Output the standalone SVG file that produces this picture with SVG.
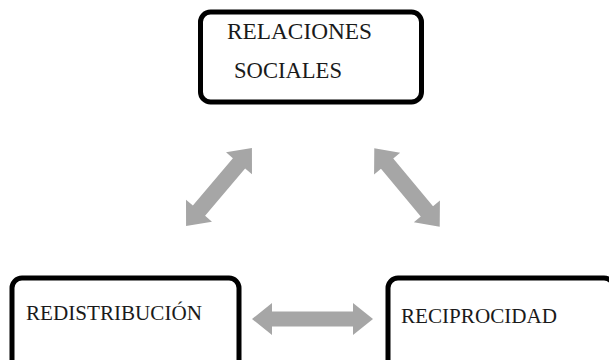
<svg xmlns="http://www.w3.org/2000/svg" width="609" height="360" viewBox="0 0 609 360">
<style>
.box{fill:#ffffff;stroke:#000000;stroke-width:5}
.lbl{font-family:'Liberation Serif','DejaVu Serif',serif;fill:#1a1a1a}
.arr{fill:#a6a6a6}
</style>
<defs>
<path id="dbl" d="M-51,0 L-31,-17 L-31,-8 L31,-8 L31,-17 L51,0 L31,17 L31,8 L-31,8 L-31,17 Z"/>
</defs>
<rect width="609" height="360" fill="#ffffff"/>
<g id="connectors">
<use href="#dbl" class="arr" transform="translate(219,187) rotate(-49.8)"/>
<use href="#dbl" class="arr" transform="translate(407,187.5) rotate(50.1)"/>
<path class="arr" d="M252,319 L272,303 L272,311.5 L353,311.5 L353,303 L373,319 L353,335 L353,326.5 L272,326.5 L272,335 Z"/>
</g>
<g id="relaciones-sociales">
<rect class="box" x="200.5" y="12" width="221" height="90" rx="10"/>
<text class="lbl" font-family="Liberation Serif, serif" x="227" y="39" font-size="23" textLength="145" lengthAdjust="spacingAndGlyphs">RELACIONES</text>
<text class="lbl" font-family="Liberation Serif, serif" x="234" y="78" font-size="23" textLength="108" lengthAdjust="spacingAndGlyphs">SOCIALES</text>
</g>
<g id="redistribucion">
<rect class="box" x="12" y="278" width="227" height="110" rx="10"/>
<text class="lbl" font-family="Liberation Serif, serif" x="26" y="320" font-size="22" textLength="176" lengthAdjust="spacingAndGlyphs">REDISTRIBUCIÓN</text>
</g>
<g id="reciprocidad">
<rect class="box" x="388" y="278" width="226" height="110" rx="10"/>
<text class="lbl" font-family="Liberation Serif, serif" x="401" y="323" font-size="22" textLength="156" lengthAdjust="spacingAndGlyphs">RECIPROCIDAD</text>
</g>
</svg>
